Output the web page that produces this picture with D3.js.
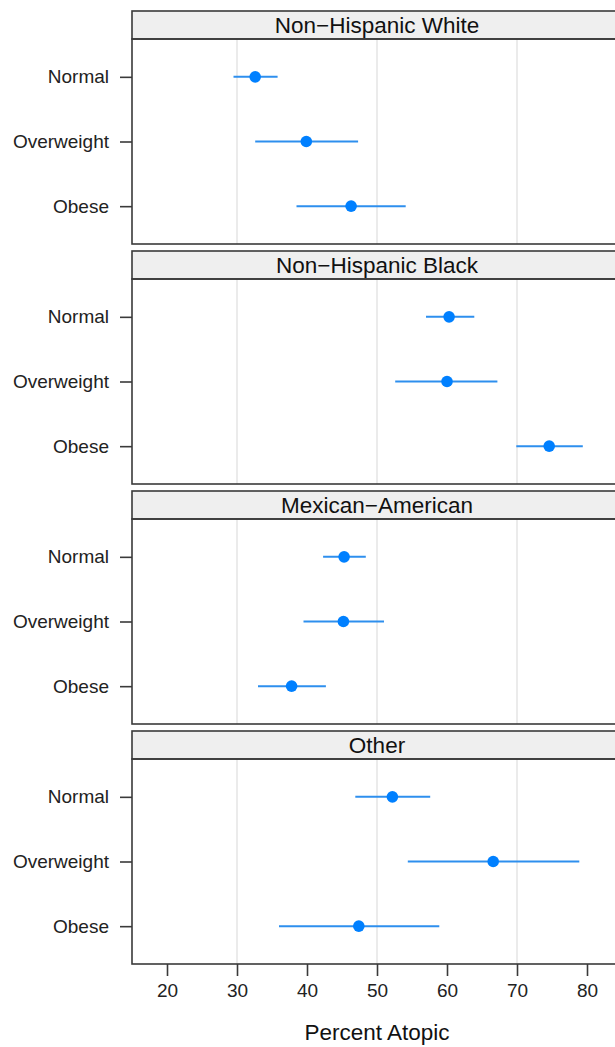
<!DOCTYPE html>
<html>
<head>
<meta charset="utf-8">
<script src="https://cdn.jsdelivr.net/npm/d3@7"></script>
<style>
  body { margin: 0; background: #fff; }
  svg { display: block; font-family: "Liberation Sans", Arial, sans-serif; }
</style>
</head>
<body>
<svg id="chart" width="615" height="1047"></svg>
<script>
const groups = ["Non\u2212Hispanic White", "Non\u2212Hispanic Black", "Mexican\u2212American", "Other"];
const categories = ["Normal", "Overweight", "Obese"];
// point estimates per group (order: Normal, Overweight, Obese)
const estimates = [
  [32.6, 39.9, 46.3],
  [60.3, 60.0, 74.6],
  [45.3, 45.2, 37.8],
  [52.2, 66.6, 47.4]
];
const lowerCI = [
  [29.5, 32.6, 38.5],
  [57.0, 52.6, 69.9],
  [42.3, 39.5, 33.0],
  [46.9, 54.4, 36.0]
];
const upperCI = [
  [35.8, 47.3, 54.1],
  [63.9, 67.2, 79.4],
  [48.4, 51.0, 42.7],
  [57.6, 78.9, 58.9]
];
const xTicks = [20, 30, 40, 50, 60, 70, 80];
const gridValues = [30, 50, 70];
const xDomain = [15, 85];
const xLabel = "Percent Atopic";

const svg = d3.select("#chart");
const left = 132, right = 622;
const firstTop = 11, period = 240, stripH = 28, panelH = 233;
const x = d3.scaleLinear().domain(xDomain).range([left, right]);

const dotCol = "#0080ff", lineCol = "#2e8fee", border = "#3a3a3a";

groups.forEach((g, i) => {
  const top = firstTop + i * period;
  const plotTop = top + stripH;
  const plotBottom = top + panelH;
  const y = d3.scalePoint().domain(categories).range([plotTop, plotBottom]).padding(0.585);
  const p = svg.append("g");

  // grid
  p.selectAll(".grid").data(gridValues).join("line")
    .attr("x1", d => x(d)).attr("x2", d => x(d))
    .attr("y1", plotTop).attr("y2", plotBottom)
    .attr("stroke", "#e4e4e4").attr("stroke-width", 1.5);

  // strip
  p.append("rect").attr("x", left).attr("y", top).attr("width", right - left).attr("height", stripH)
    .attr("fill", "#efefef").attr("stroke", border).attr("stroke-width", 1.6);
  p.append("text").attr("x", (left + right) / 2).attr("y", top + stripH / 2 + 8)
    .attr("text-anchor", "middle").attr("font-size", 22.5).attr("fill", "#111").text(g);

  // panel border
  p.append("rect").attr("x", left).attr("y", plotTop).attr("width", right - left).attr("height", plotBottom - plotTop)
    .attr("fill", "none").attr("stroke", border).attr("stroke-width", 1.6);

  // y axis
  const ya = d3.axisLeft(y).tickSize(12).tickPadding(11);
  const yg = p.append("g").attr("transform", `translate(${left},0)`).call(ya);
  yg.select(".domain").remove();
  yg.selectAll(".tick line").attr("stroke", border).attr("stroke-width", 1.6);
  yg.selectAll(".tick text").attr("font-size", 19).attr("fill", "#222")
    .attr("font-family", "'Liberation Sans', Arial, sans-serif");

  const rows = categories.map((c, j) => ({ c, est: estimates[i][j], lo: lowerCI[i][j], hi: upperCI[i][j] }));
  p.selectAll(".ci").data(rows).join("line")
    .attr("x1", d => x(d.lo)).attr("x2", d => x(d.hi))
    .attr("y1", d => y(d.c)).attr("y2", d => y(d.c))
    .attr("stroke", lineCol).attr("stroke-width", 2);
  p.selectAll(".pt").data(rows).join("circle")
    .attr("cx", d => x(d.est)).attr("cy", d => y(d.c)).attr("r", 5.8)
    .attr("fill", dotCol);

  if (i === groups.length - 1) {
    const xa = d3.axisBottom(x).tickValues(xTicks).tickSize(12).tickPadding(8);
    const xg = p.append("g").attr("transform", `translate(0,${plotBottom})`).call(xa);
    xg.select(".domain").remove();
    xg.selectAll(".tick line").attr("stroke", border).attr("stroke-width", 1.6);
    xg.selectAll(".tick text").attr("font-size", 19).attr("fill", "#222")
      .attr("font-family", "'Liberation Sans', Arial, sans-serif");
    svg.append("text").attr("x", x(50)).attr("y", 1040).attr("text-anchor", "middle")
      .attr("font-size", 22.5).attr("fill", "#111").text(xLabel);
  }
});
</script>
</body>
</html>
